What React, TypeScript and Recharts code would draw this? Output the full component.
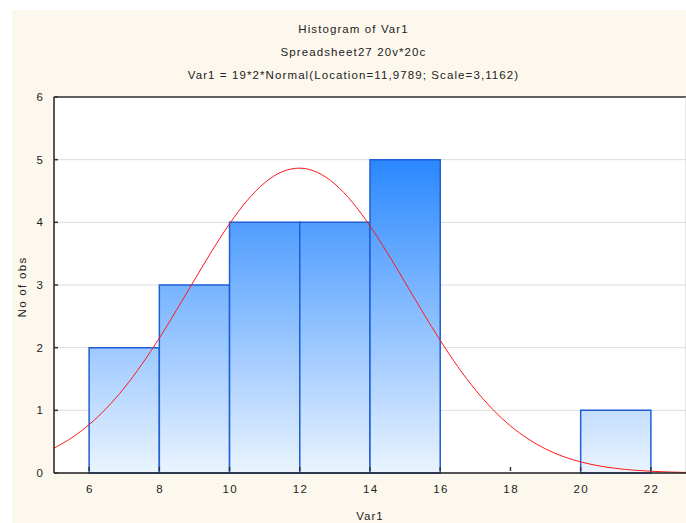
import React from "react";
import {
  ComposedChart,
  Line,
  XAxis,
  YAxis,
  CartesianGrid,
  ReferenceArea,
  ReferenceLine,
} from "recharts";

const binStarts = [6, 8, 10, 12, 14, 20];
const binEnds = [8, 10, 12, 14, 16, 22];
const binCounts = [2, 3, 4, 4, 5, 1];

const curveX = [
  5, 5.5, 6, 6.5, 7, 7.5, 8, 8.5, 9, 9.5, 10, 10.5, 11, 11.5, 12, 12.5, 13, 13.5,
  14, 14.5, 15, 15.5, 16, 16.5, 17, 17.5, 18, 18.5, 19, 19.5, 20, 20.5, 21, 21.5,
  22, 22.5, 23,
];
const curveY = [
  0.396, 0.56, 0.772, 1.037, 1.357, 1.732, 2.153, 2.609, 3.081, 3.545, 3.977,
  4.347, 4.631, 4.808, 4.865, 4.797, 4.611, 4.319, 3.942, 3.507, 3.041, 2.569,
  2.116, 1.698, 1.328, 1.013, 0.752, 0.545, 0.384, 0.264, 0.177, 0.116, 0.074,
  0.046, 0.028, 0.016, 0.009,
];

const xTicks = [6, 8, 10, 12, 14, 16, 18, 20, 22];
const yTicks = [0, 1, 2, 3, 4, 5, 6];

const titleLines = [
  "Histogram of Var1",
  "Spreadsheet27 20v*20c",
  "Var1 = 19*2*Normal(Location=11,9789; Scale=3,1162)",
];

const curveData = curveX.map((x, i) => ({ x, y: curveY[i] }));

const FONT = "'Liberation Sans', Arial, sans-serif";

const YTick = (props: any) => {
  const { x, y, payload } = props;
  return (
    <g>
      <line x1={x + 8} x2={x + 12} y1={y} y2={y} stroke="#333" strokeWidth={1.5} />
      <text x={x - 2} y={y} dy={4} textAnchor="end" fontSize={11.5} fill="#222" fontFamily={FONT} letterSpacing={1}>
        {payload.value}
      </text>
    </g>
  );
};

const XTick = (props: any) => {
  const { x, y, payload } = props;
  return (
    <g>
      <line x1={x} x2={x} y1={y - 10} y2={y - 14} stroke="#333" strokeWidth={1.5} />
      <text x={x + 0.7} y={y + 12} textAnchor="middle" fontSize={11.5} fill="#222" fontFamily={FONT} letterSpacing={1.4}>
        {payload.value}
      </text>
    </g>
  );
};

export default function App() {
  return (
    <div
      style={{
        position: "absolute",
        left: 0,
        top: 0,
        width: 686,
        height: 523,
        background: "#ffffff",
        overflow: "hidden",
        fontFamily: FONT,
      }}
    >
      <div
        style={{
          position: "absolute",
          left: 12,
          top: 10,
          right: 0,
          bottom: 0,
          background: "#fdf8ed",
        }}
      />
      {titleLines.map((t, i) => (
        <div
          key={i}
          style={{
            position: "absolute",
            left: 0,
            width: 707,
            top: 23 + i * 23,
            textAlign: "center",
            fontSize: 11.5,
            color: "#222",
            letterSpacing: 1.1,
          }}
        >
          {t}
        </div>
      ))}
      <div
        style={{
          position: "absolute",
          left: 0,
          top: 0,
        }}
      >
        <ComposedChart
          width={686}
          height={523}
          data={curveData}
          margin={{ top: 97, right: 0, bottom: 20, left: 12 }}
        >
          <defs>
            <linearGradient id="barGrad" gradientUnits="userSpaceOnUse" x1="0" y1="160" x2="0" y2="473">
              <stop offset="0%" stopColor="#2a88ff" />
              <stop offset="100%" stopColor="#eaf4ff" />
            </linearGradient>
          </defs>
          <CartesianGrid vertical={false} stroke="#dcdcdc" fill="#ffffff" ticks={yTicks} />
          <XAxis
            dataKey="x"
            type="number"
            domain={[5, 23]}
            ticks={xTicks}
            allowDataOverflow
            height={30}
            tickSize={0}
            tickMargin={8}
            tickLine={false}
            axisLine={{ stroke: "#222", strokeWidth: 1.5 }}
            tick={<XTick />}
            interval={0}
          />
          <YAxis
            type="number"
            domain={[0, 6]}
            ticks={yTicks}
            width={42}
            tickSize={0}
            tickMargin={8}
            tickLine={false}
            axisLine={{ stroke: "#222", strokeWidth: 1.5 }}
            tick={<YTick />}
            interval={0}
          />
          <ReferenceLine y={6} stroke="#333" strokeWidth={1.5} />
          <ReferenceLine x={23} stroke="#cccccc" strokeWidth={1} />
          {binStarts.map((s, i) => (
            <ReferenceArea
              key={i}
              x1={s}
              x2={binEnds[i]}
              y1={0}
              y2={binCounts[i]}
              fill="url(#barGrad)"
              fillOpacity={1}
              stroke="#1f5fd6"
              strokeWidth={1.5}
              strokeOpacity={1}
              ifOverflow="visible"
            />
          ))}
          <Line
            dataKey="y"
            type="monotone"
            stroke="#ff1818"
            strokeWidth={1}
            dot={false}
            isAnimationActive={false}
          />
        </ComposedChart>
      </div>
      <div
        style={{
          position: "absolute",
          left: 54,
          width: 632,
          top: 510,
          textAlign: "center",
          fontSize: 11.5,
          color: "#222",
          letterSpacing: 1,
        }}
      >
        Var1
      </div>
      <div
        style={{
          position: "absolute",
          left: 22,
          top: 287,
          transform: "translate(-50%, -50%) rotate(-90deg)",
          fontSize: 11.5,
          color: "#222",
          whiteSpace: "nowrap",
          letterSpacing: 1.3,
        }}
      >
        No of obs
      </div>
    </div>
  );
}
